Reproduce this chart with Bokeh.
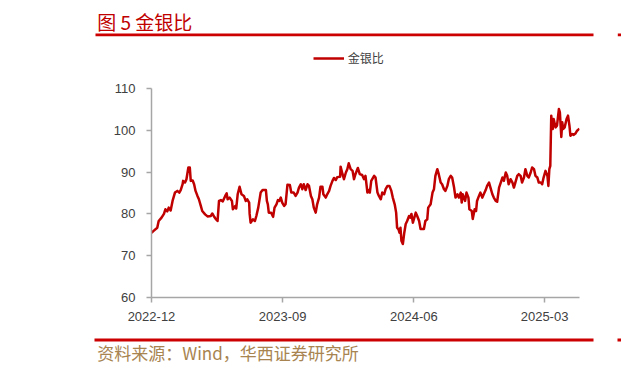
import pandas as pd
from bokeh.plotting import figure
from bokeh.layouts import column
from bokeh.models import (Range1d, FixedTicker, DatetimeTickFormatter, Label,
                          BoxAnnotation, Legend, LegendItem, ColumnDataSource)
from bokeh.embed import file_html
from bokeh.resources import INLINE

# ---------------- data ----------------
dates = [
    "2022-12-01", "2022-12-06", "2022-12-13", "2022-12-16", "2022-12-22", "2022-12-27", "2022-12-30",
    "2023-01-03", "2023-01-06", "2023-01-10", "2023-01-14", "2023-01-19", "2023-01-24", "2023-01-28",
    "2023-01-31", "2023-02-04", "2023-02-05", "2023-02-09", "2023-02-12", "2023-02-16", "2023-02-19",
    "2023-02-21", "2023-02-25", "2023-02-28", "2023-03-03", "2023-03-07", "2023-03-10", "2023-03-14",
    "2023-03-17", "2023-03-23", "2023-03-28", "2023-04-04", "2023-04-07", "2023-04-11", "2023-04-14",
    "2023-04-18", "2023-04-21", "2023-04-25", "2023-04-29", "2023-05-04", "2023-05-07", "2023-05-09",
    "2023-05-13", "2023-05-18", "2023-05-20", "2023-05-25", "2023-05-27", "2023-05-30", "2023-06-03",
    "2023-06-07", "2023-06-12", "2023-06-16", "2023-06-19", "2023-06-23", "2023-06-24", "2023-06-26",
    "2023-07-01", "2023-07-05", "2023-07-08", "2023-07-12", "2023-07-17", "2023-07-21", "2023-07-28",
    "2023-07-30", "2023-08-01", "2023-08-03", "2023-08-08", "2023-08-12", "2023-08-15", "2023-08-19",
    "2023-08-22", "2023-08-25", "2023-08-28", "2023-08-31", "2023-09-04", "2023-09-07", "2023-09-11",
    "2023-09-16", "2023-09-19", "2023-09-24", "2023-09-28", "2023-10-02", "2023-10-05", "2023-10-09",
    "2023-10-12", "2023-10-15", "2023-10-19", "2023-10-23", "2023-10-26", "2023-10-30", "2023-11-02",
    "2023-11-05", "2023-11-09", "2023-11-12", "2023-11-16", "2023-11-19", "2023-11-23", "2023-11-25",
    "2023-11-30", "2023-12-03", "2023-12-07", "2023-12-10", "2023-12-14", "2023-12-17", "2023-12-21",
    "2023-12-24", "2023-12-30", "2023-12-31", "2024-01-04", "2024-01-07", "2024-01-11", "2024-01-14",
    "2024-01-17", "2024-01-21", "2024-01-25", "2024-01-28", "2024-01-31", "2024-02-05", "2024-02-09",
    "2024-02-14", "2024-02-18", "2024-02-21", "2024-02-25", "2024-02-28", "2024-03-01", "2024-03-04",
    "2024-03-10", "2024-03-13", "2024-03-17", "2024-03-20", "2024-03-24", "2024-03-27", "2024-03-31",
    "2024-04-03", "2024-04-07", "2024-04-11", "2024-04-15", "2024-04-18", "2024-04-22", "2024-04-25",
    "2024-04-27", "2024-04-30", "2024-05-02", "2024-05-04", "2024-05-06", "2024-05-09", "2024-05-12",
    "2024-05-15", "2024-05-18", "2024-05-22", "2024-05-25", "2024-05-27", "2024-05-30", "2024-06-02",
    "2024-06-05", "2024-06-08", "2024-06-12", "2024-06-15", "2024-06-22", "2024-06-25", "2024-06-29",
    "2024-07-01", "2024-07-06", "2024-07-10", "2024-07-13", "2024-07-16", "2024-07-20", "2024-07-23",
    "2024-07-27", "2024-07-30", "2024-08-03", "2024-08-06", "2024-08-10", "2024-08-13", "2024-08-17",
    "2024-08-20", "2024-08-24", "2024-08-27", "2024-08-31", "2024-09-03", "2024-09-07", "2024-09-09",
    "2024-09-11", "2024-09-16", "2024-09-19", "2024-09-23", "2024-09-25", "2024-09-30", "2024-10-02",
    "2024-10-06", "2024-10-09", "2024-10-11", "2024-10-15", "2024-10-18", "2024-10-22", "2024-10-25",
    "2024-10-29", "2024-11-01", "2024-11-05", "2024-11-08", "2024-11-12", "2024-11-15", "2024-11-19",
    "2024-11-22", "2024-11-26", "2024-11-29", "2024-12-03", "2024-12-06", "2024-12-10", "2024-12-13",
    "2024-12-16", "2024-12-20", "2024-12-24", "2024-12-27", "2024-12-30", "2025-01-03", "2025-01-06",
    "2025-01-10", "2025-01-13", "2025-01-17", "2025-01-20", "2025-01-24", "2025-01-27", "2025-01-31",
    "2025-02-03", "2025-02-07", "2025-02-10", "2025-02-14", "2025-02-17", "2025-02-21", "2025-02-24",
    "2025-02-27", "2025-03-03", "2025-03-07", "2025-03-09", "2025-03-11", "2025-03-13", "2025-03-15",
    "2025-03-18", "2025-03-20", "2025-03-24", "2025-03-27", "2025-03-31", "2025-04-02", "2025-04-05",
    "2025-04-07", "2025-04-09", "2025-04-12", "2025-04-16", "2025-04-19", "2025-04-22", "2025-04-24",
    "2025-04-28", "2025-05-01", "2025-05-05", "2025-05-08", "2025-05-13",
]

gold_silver_ratio = [
    75.5, 76.0, 76.7, 78.3, 79.1, 80.0, 81.1,
    80.6, 81.5, 80.8, 83.1, 85.1, 85.5, 85.1,
    85.7, 87.1, 87.9, 87.5, 88.3, 91.1, 91.1,
    87.9, 88.0, 87.1, 85.5, 84.3, 83.5, 81.9,
    80.7, 79.9, 79.4, 79.5, 80.1, 79.3, 78.8,
    78.3, 83.1, 83.3, 83.0, 84.3, 84.9, 83.5,
    83.9, 83.1, 81.1, 81.9, 81.3, 84.7, 86.5,
    84.7, 84.3, 83.1, 83.5, 82.7, 80.0, 77.9,
    78.7, 78.3, 79.5, 81.5, 85.1, 85.7, 85.7,
    83.1, 82.3, 80.3, 80.3, 79.3, 81.5, 82.3,
    83.3, 83.1, 83.9, 82.7, 81.9, 82.3, 87.0,
    86.9, 85.1, 85.1, 84.3, 85.1, 86.3, 87.1,
    85.9, 87.1, 85.7, 87.1, 86.7, 84.3, 83.5,
    81.5, 80.3, 82.3, 83.9, 86.5, 86.5, 84.7,
    83.9, 84.7, 85.5, 86.7, 87.9, 88.6, 88.1,
    88.8, 88.9, 91.3, 89.5, 88.3, 89.9, 90.7,
    92.1, 90.7, 90.3, 88.3, 89.5, 91.0, 89.5,
    89.3, 88.3, 89.1, 85.1, 85.7, 85.1, 87.9,
    89.1, 88.7, 85.1, 84.3, 83.5, 85.1, 84.7,
    85.9, 86.7, 86.7, 85.5, 83.9, 82.3, 80.3,
    76.7, 76.3, 75.5, 76.7, 73.6, 72.8, 75.5,
    77.6, 78.3, 79.5, 79.1, 80.0, 77.9, 79.1,
    80.3, 79.5, 78.3, 76.4, 76.4, 78.3, 78.7,
    81.5, 82.3, 85.1, 85.9, 89.1, 90.7, 89.5,
    87.5, 87.1, 85.9, 85.5, 86.7, 88.3, 89.1,
    88.7, 86.3, 83.9, 84.7, 83.9, 85.1, 82.7,
    84.7, 83.1, 85.1, 83.9, 81.1, 80.7, 78.8,
    81.1, 80.7, 83.1, 84.3, 85.1, 83.9, 84.7,
    85.7, 86.7, 87.5, 86.3, 84.7, 83.9, 83.1,
    82.9, 86.3, 87.3, 88.7, 87.9, 89.9, 89.1,
    87.1, 88.3, 87.5, 86.3, 87.5, 89.1, 89.5,
    89.1, 87.5, 88.7, 90.7, 89.1, 88.7, 89.9,
    91.1, 90.7, 89.1, 88.7, 87.5, 87.5, 87.1,
    88.7, 90.3, 89.1, 86.7, 90.7, 91.5, 103.5,
    100.3, 102.7, 100.7, 101.1, 105.1, 104.3, 98.4,
    101.9, 100.3, 100.7, 102.7, 103.5, 101.1, 98.7,
    99.1, 98.9, 99.3, 99.9, 100.4,
]

series_name = "金银比"
x_tick_dates = ["2022-12-01", "2023-09-01", "2024-06-01", "2025-03-01"]
y_ticks = [60, 70, 80, 90, 100, 110]
x_start, x_end = "2022-12-01", "2025-05-13"
title_text = "图 5 金银比"
source_text = "资料来源：Wind，华西证券研究所"

W = 605          # main chart width
PANEL_W = 621    # header / footer strip width
RED_LINE = "#C00000"
RULE_RED = "#CC0000"
LABEL_COL = "#404040"
AXIS_GREY = "#A6A6A6"


def blank_panel(h, y_top):
    """A figure whose frame fills the whole canvas; data units == page pixels."""
    f = figure(width=PANEL_W, height=h, x_range=Range1d(0, PANEL_W),
               y_range=Range1d(y_top + h, y_top),
               x_axis_location=None, y_axis_location=None,
               min_border=0, min_border_left=0, min_border_right=0,
               min_border_top=0, min_border_bottom=0,
               output_backend="svg", toolbar_location=None)
    f.frame_align = False
    f.outline_line_color = None
    f.grid.visible = False
    f.background_fill_color = "white"
    f.border_fill_color = "white"
    return f


def rule(fig, left, right, top, bottom):
    fig.add_layout(BoxAnnotation(left=left, right=right, top=top, bottom=bottom,
                                 fill_color=RULE_RED, fill_alpha=1, line_color=None))


# ---------------- top panel: title, rule, legend ----------------
TOP_H = 72
top = blank_panel(TOP_H, 0)
top.add_layout(Label(x=96.7, y=20.5, text=title_text, text_font="Noto Sans CJK SC",
                     text_font_size="19px", text_color=RED_LINE,
                     text_baseline="middle", text_align="left"))
rule(top, 95, 593, 33, 35.7)
rule(top, 617.3, 621, 33, 35.7)
legend_proxy = top.line(x=[float("nan")], y=[float("nan")],
                        line_color=RED_LINE, line_width=2.5)
legend = Legend(items=[LegendItem(label=series_name, renderers=[legend_proxy])],
                location=(312.7, 6), orientation="horizontal",
                glyph_width=31, glyph_height=14, label_height=14,
                label_standoff=4, padding=0, margin=0, spacing=0,
                label_text_font="Noto Sans CJK SC", label_text_font_size="12px",
                label_text_color=LABEL_COL, border_line_color=None,
                background_fill_alpha=0)
top.add_layout(legend)

# ---------------- main chart ----------------
src = ColumnDataSource(dict(date=pd.to_datetime(dates), ratio=gold_silver_ratio))
MAIN_H = 258
FL, FT, FW, FH = 151, 16, 428, 209
p = figure(width=W, height=MAIN_H, x_axis_type="datetime",
           x_range=Range1d(pd.Timestamp(x_start), pd.Timestamp(x_end)),
           y_range=Range1d(60, 110),
           output_backend="svg", toolbar_location=None,
           min_border_left=FL, min_border_right=W - FL - FW,
           min_border_top=FT, min_border_bottom=MAIN_H - FT - FH)
p.frame_align = False
p.background_fill_color = "white"
p.border_fill_color = "white"
p.outline_line_color = None
p.xgrid.visible = False
p.ygrid.visible = False

for ax in (p.xaxis[0], p.yaxis[0]):
    ax.axis_line_color = AXIS_GREY
    ax.axis_line_width = 1.5
    ax.major_tick_line_color = AXIS_GREY
    ax.major_tick_line_width = 1.5
    ax.major_tick_out = 5
    ax.major_tick_in = 0
    ax.minor_tick_line_color = None
    ax.major_label_text_font = "Liberation Sans"
    ax.major_label_text_font_size = "13px"
    ax.major_label_text_color = LABEL_COL

p.xaxis.ticker = FixedTicker(ticks=[pd.Timestamp(d).value / 1e6 for d in x_tick_dates])
fmt = "%Y-%m"
p.xaxis.formatter = DatetimeTickFormatter(
    milliseconds=fmt, seconds=fmt, minsec=fmt, minutes=fmt, hourmin=fmt,
    hours=fmt, days=fmt, months=fmt, years=fmt)
p.xaxis.major_label_standoff = 9
p.yaxis.ticker = FixedTicker(ticks=y_ticks)
p.yaxis.major_label_standoff = 11

p.line(x="date", y="ratio", source=src, line_color=RED_LINE,
       line_width=2.5, line_join="round")

# ---------------- bottom panel: rule and source ----------------
BOT_H = 42
bot = blank_panel(BOT_H, TOP_H + MAIN_H)
rule(bot, 94, 593, 338, 341)
rule(bot, 617, 621, 338, 341)
bot.add_layout(Label(x=96.7, y=351.5, text=source_text, text_font="Noto Sans CJK SC",
                     text_font_size="17px", text_color="#A88450",
                     text_baseline="middle", text_align="left"))

layout = column(top, p, bot, spacing=0)
open("out.html", "w").write(file_html(layout, INLINE))
